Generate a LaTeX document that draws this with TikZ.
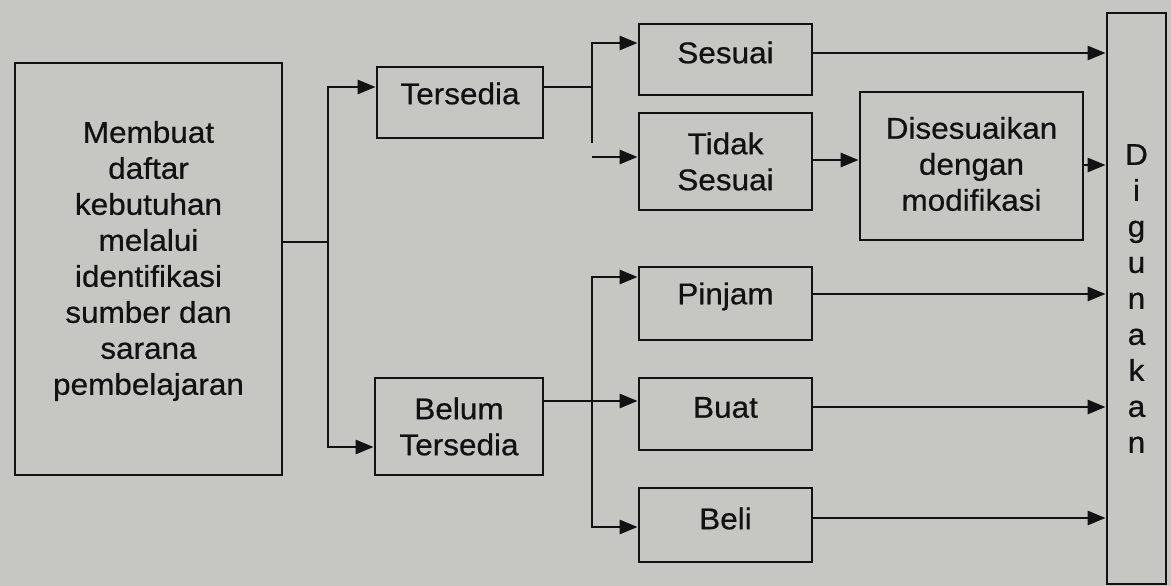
\documentclass[tikz,border=0pt]{standalone}
\usepackage{fontspec}
\setmainfont{Liberation Sans}[FakeStretch=1.05,FakeBold=0.6]
\usetikzlibrary{arrows.meta}
\definecolor{paper}{RGB}{198,198,194}
\definecolor{ink}{RGB}{18,18,18}
\begin{document}
\begin{tikzpicture}[x=1pt,y=-1pt,
  box/.style={draw=ink, line width=2.8pt, inner sep=0pt},
  txt/.style={inner sep=0pt, align=center, text=ink, font=\fontsize{30}{36}\selectfont},
  line/.style={draw=ink, line width=2.8pt},
  arr/.style={line, -{Triangle[length=18pt,width=14pt]}}]
\fill[paper] (0,0) rectangle (1171,586);
\useasboundingbox (0,0) rectangle (1171,586);

% boxes
\node[box, minimum width=267pt, minimum height=412pt] (main) at (148.5,269) {};
\node[box, minimum width=166pt, minimum height=71pt] (tersedia) at (460,102.5) {};
\node[box, minimum width=168pt, minimum height=97pt] (belum) at (459,426.5) {};
\node[box, minimum width=173pt, minimum height=71pt] (sesuai) at (725.5,59.5) {};
\node[box, minimum width=173pt, minimum height=97pt] (tidak) at (725.5,161.5) {};
\node[box, minimum width=223pt, minimum height=148pt] (dis) at (971.5,166) {};
\node[box, minimum width=173pt, minimum height=73pt] (pinjam) at (725.5,303.5) {};
\node[box, minimum width=173pt, minimum height=72pt] (buat) at (725.5,414) {};
\node[box, minimum width=173pt, minimum height=74pt] (beli) at (725.5,525) {};
\node[box, minimum width=59pt, minimum height=571pt] (diguna) at (1136.5,298.5) {};

% texts
\node[txt] (mainT) at ([yshift=8pt]main.center) {Membuat\\daftar\\kebutuhan\\melalui\\identifikasi\\sumber dan\\sarana\\pembelajaran};
\node[txt] (tersediaT) at ([yshift=9pt]tersedia.center) {Tersedia};
\node[txt] (belumT) at (belum.center) {Belum\\Tersedia};
\node[txt] (sesuaiT) at ([yshift=7pt]sesuai.center) {Sesuai};
\node[txt] (tidakT) at (tidak.center) {Tidak\\Sesuai};
\node[txt] (disT) at ([yshift=2pt]dis.center) {Disesuaikan\\dengan\\modifikasi};
\node[txt] (pinjamT) at ([yshift=7pt]pinjam.center) {Pinjam};
\node[txt] (buatT) at ([yshift=6.5pt]buat.center) {Buat};
\node[txt] (beliT) at ([yshift=6.5pt]beli.center) {Beli};
\node[txt] (digunaT) at (diguna.center) {D\\i\\g\\u\\n\\a\\k\\a\\n};

% connectors from main box
\coordinate (m1) at (328,242);
\coordinate (m1t) at (328,87);
\coordinate (m1b) at (328,447);
\draw[line] (main.east |- m1) -- (m1);
\draw[arr] (m1) -- (m1t) -- (tersedia.west |- m1t);
\draw[arr] (m1) -- (m1b) -- (belum.west |- m1b);

% from Tersedia
\coordinate (t1) at (592,87);
\coordinate (t1t) at (592,43);
\coordinate (t1b) at (592,143);
\coordinate (t2) at (592,157);
\draw[arr] (tersedia.east |- t1) -- (t1) -- (t1t) -- (sesuai.west |- t1t);
\draw[line] (t1) -- (t1b);
\draw[arr] (t2) -- (tidak.west |- t2);

% from Belum Tersedia
\coordinate (b1) at (592,401);
\coordinate (b1t) at (592,277);
\coordinate (b1b) at (592,527);
\draw[arr] (belum.east |- b1) -- (buat.west |- b1);
\draw[arr] (b1) -- (b1t) -- (pinjam.west |- b1t);
\draw[arr] (b1) -- (b1b) -- (beli.west |- b1b);

% to the right
\coordinate (r1) at (0,53);
\coordinate (r2) at (0,160);
\coordinate (r3) at (0,165);
\coordinate (r4) at (0,294);
\coordinate (r5) at (0,407);
\coordinate (r6) at (0,518);
\draw[arr] (sesuai.east |- r1) -- (diguna.west |- r1);
\draw[arr] (tidak.east |- r2) -- (dis.west |- r2);
\draw[arr] (dis.east |- r3) -- (diguna.west |- r3);
\draw[arr] (pinjam.east |- r4) -- (diguna.west |- r4);
\draw[arr] (buat.east |- r5) -- (diguna.west |- r5);
\draw[arr] (beli.east |- r6) -- (diguna.west |- r6);
\end{tikzpicture}
\end{document}
